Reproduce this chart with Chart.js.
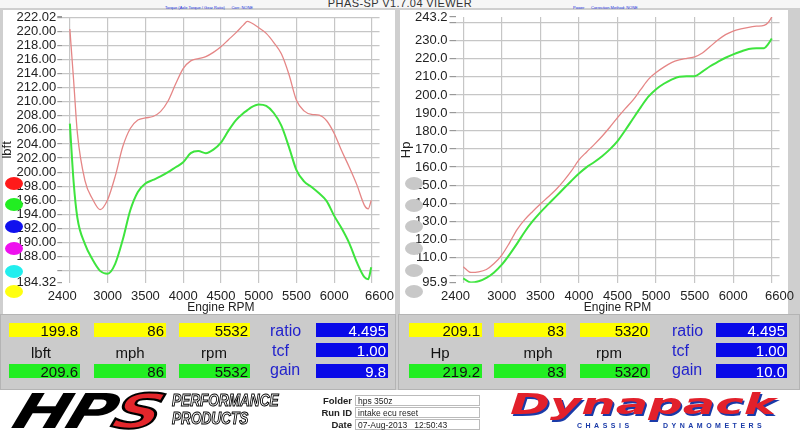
<!DOCTYPE html>
<html>
<head>
<meta charset="utf-8">
<script src="https://cdn.jsdelivr.net/npm/chart.js@4.4.0/dist/chart.umd.min.js"></script>
<style>
  body { margin: 0; width: 800px; height: 431px; overflow: hidden; position: relative;
         background: #cfcfcf; font-family: "Liberation Sans", Arial, sans-serif; }
  .abs { position: absolute; }
  .panel { position: absolute; background: #fff; }
  canvas { position: absolute; top: 0; }
  .dot { position: absolute; width: 18px; height: 13px; border-radius: 50%; }
  .box { position: absolute; height: 14px; font-size: 15px; line-height: 15px; text-align: right;
         padding-right: 2px; box-sizing: border-box; color: #111; }
  .yel { background: #ffff00; }
  .grn { background: #22ee22; }
  .blu { background: #0a0ae8; color: #fff; }
  .lab { position: absolute; font-size: 15px; color: #111; text-align: center; width: 60px; }
  .key { position: absolute; font-size: 16px; color: #2222cc; }
  .sub { position: absolute; top: 5px; font-size: 4px; color: #2233dd; white-space: pre; }
  .flab { position: absolute; left: 300px; width: 52px; text-align: right; font-size: 9.5px; font-weight: bold; color: #222; }
  .fbox { position: absolute; left: 355px; width: 125px; height: 11px; border: 1px solid #bbb; box-sizing: border-box;
          background: #fff; font-size: 8.5px; line-height: 10px; padding-left: 2px; color: #222; white-space: pre; }
</style>
</head>
<body>
<div class="abs" style="left:0;top:0;width:800px;height:8px;background:#f6f6f6"></div>
<div class="abs" style="left:0;top:-3px;width:800px;text-align:center;font-size:11px;color:#333;letter-spacing:0.4px">PHAS-SP V1.7.04  VIEWER</div>
<div class="sub" style="left:165px">Torque (Axle Torque / Gear Ratio)      Corr: NONE</div>
<div class="sub" style="left:573px">Power      Correction Method: NONE</div>

<div class="panel" style="left:3px;top:10px;width:392px;height:304px"></div>
<div class="panel" style="left:400px;top:10px;width:388px;height:304px"></div>

<canvas id="torqueChart" width="400" height="316" style="left:0"></canvas>
<canvas id="powerChart" width="402" height="316" style="left:398px"></canvas>

<!-- run selector buttons -->
<div class="dot" style="left:5px;top:177px;background:#ff1a1a"></div>
<div class="dot" style="left:5px;top:198px;background:#22ee22"></div>
<div class="dot" style="left:5px;top:220px;background:#1010ee"></div>
<div class="dot" style="left:5px;top:242px;background:#ee10ee"></div>
<div class="dot" style="left:5px;top:265px;background:#22eeee"></div>
<div class="dot" style="left:5px;top:285px;background:#ffff10"></div>
<div class="dot" style="left:405px;top:177px;background:#c8c8c8"></div>
<div class="dot" style="left:405px;top:199px;background:#c8c8c8"></div>
<div class="dot" style="left:405px;top:220px;background:#c8c8c8"></div>
<div class="dot" style="left:405px;top:242px;background:#c8c8c8"></div>
<div class="dot" style="left:405px;top:264px;background:#c8c8c8"></div>
<div class="dot" style="left:405px;top:285px;background:#c8c8c8"></div>

<!-- readout panel -->
<div class="abs" style="left:0;top:314px;width:396px;height:76px;background:#cbcbcb;border:1px solid #b4b4b4;box-sizing:border-box"></div>
<div class="abs" style="left:398px;top:314px;width:402px;height:76px;background:#cbcbcb;border:1px solid #b4b4b4;box-sizing:border-box"></div>

<div class="box yel" style="left:9px;top:323px;width:71px">199.8</div>
<div class="box yel" style="left:94px;top:323px;width:72px">86</div>
<div class="box yel" style="left:179px;top:323px;width:71px">5532</div>
<div class="key" style="left:270px;top:322px">ratio</div>
<div class="box blu" style="left:316px;top:323px;width:72px">4.495</div>
<div class="lab" style="left:11px;top:344px">lbft</div>
<div class="lab" style="left:100px;top:344px">mph</div>
<div class="lab" style="left:184px;top:344px">rpm</div>
<div class="key" style="left:272px;top:342px">tcf</div>
<div class="box blu" style="left:316px;top:343px;width:72px">1.00</div>
<div class="box grn" style="left:9px;top:364px;width:71px">209.6</div>
<div class="box grn" style="left:94px;top:364px;width:72px">86</div>
<div class="box grn" style="left:179px;top:364px;width:71px">5532</div>
<div class="key" style="left:270px;top:361px">gain</div>
<div class="box blu" style="left:316px;top:364px;width:72px">9.8</div>

<div class="box yel" style="left:409px;top:323px;width:73px">209.1</div>
<div class="box yel" style="left:494px;top:323px;width:72px">83</div>
<div class="box yel" style="left:580px;top:323px;width:70px">5320</div>
<div class="key" style="left:672px;top:322px">ratio</div>
<div class="box blu" style="left:716px;top:323px;width:71px">4.495</div>
<div class="lab" style="left:410px;top:344px">Hp</div>
<div class="lab" style="left:508px;top:344px">mph</div>
<div class="lab" style="left:579px;top:344px">rpm</div>
<div class="key" style="left:672px;top:342px">tcf</div>
<div class="box blu" style="left:716px;top:343px;width:71px">1.00</div>
<div class="box grn" style="left:409px;top:364px;width:73px">219.2</div>
<div class="box grn" style="left:494px;top:364px;width:72px">83</div>
<div class="box grn" style="left:580px;top:364px;width:70px">5320</div>
<div class="key" style="left:672px;top:361px">gain</div>
<div class="box blu" style="left:716px;top:364px;width:71px">10.0</div>

<!-- footer -->
<div class="abs" style="left:0;top:390px;width:800px;height:41px;background:#fff"></div>
<div class="abs" style="left:10px;top:387px;font:italic bold 48px 'DejaVu Sans';line-height:48px;letter-spacing:-2px;
     transform-origin:0 40px;transform:skewX(-18deg) scaleX(1.4);color:#000">HP<span style="color:#e3262b;-webkit-text-stroke:2px #000">S</span></div>
<div class="abs" style="left:172px;top:392px;font:italic bold 16px 'Liberation Sans';color:#fff;-webkit-text-stroke:1px #000;
     transform-origin:0 0;transform:scaleX(0.85);line-height:18px">PERFORMANCE<br>PRODUCTS</div>
<div class="flab" style="top:395px">Folder</div>
<div class="flab" style="top:407px">Run ID</div>
<div class="flab" style="top:419px">Date</div>
<div class="fbox" style="top:395px">hps 350z</div>
<div class="fbox" style="top:407px">intake ecu reset</div>
<div class="fbox" style="top:419px">07-Aug-2013   12:50:43</div>
<div class="abs" style="left:510px;top:389px;font:italic bold 28px 'DejaVu Sans';line-height:32px;color:#e2202b;
     text-shadow:1px 2px 0 #1a3aa8;transform-origin:0 0;transform:scaleX(1.72)">Dynapack</div>
<div class="abs" style="left:577px;top:422px;font:bold 7px 'Liberation Sans';letter-spacing:3.5px;color:#1a3aa8">CHASSIS</div>
<div class="abs" style="left:663px;top:422px;font:bold 7px 'Liberation Sans';letter-spacing:3.5px;color:#1a3aa8">DYNAMOMETERS</div>

<script>
// Torque graph (lbft)
const torqueRpm = [2500, 2550, 2600, 2700, 2800, 2900, 3000, 3100, 3200, 3300, 3400, 3500, 3600, 3700,
  3800, 3900, 4000, 4100, 4200, 4300, 4400, 4500, 4600, 4700, 4800, 4850, 4900, 5000, 5100, 5200,
  5300, 5400, 5500, 5600, 5700, 5800, 5900, 6000, 6100, 6200, 6300, 6400, 6450, 6490];
const torqueRed = [220.3, 213.0, 205.5, 198.8, 196.2, 194.7, 196.1, 199.4, 203.6, 206.2, 207.4, 207.7, 207.9, 208.6,
  210.1, 212.5, 214.7, 215.8, 216.1, 216.4, 217.0, 217.8, 218.8, 219.8, 220.9, 221.4, 221.2, 220.5, 219.7, 218.4,
  216.8, 213.9, 210.2, 208.7, 208.2, 208.1, 207.3, 205.5, 203.0, 200.7, 198.2, 195.3, 194.8, 196.0];
const torqueGreen = [206.9, 198.6, 193.5, 189.8, 187.6, 186.0, 185.6, 187.0, 190.4, 194.6, 197.2, 198.4, 198.9, 199.4,
  200.0, 200.7, 201.4, 202.7, 203.0, 202.7, 203.2, 204.2, 205.9, 207.4, 208.4, 208.8, 209.2, 209.6, 209.4, 208.4,
  206.6, 203.6, 200.3, 198.7, 197.9, 197.0, 195.9, 193.8, 192.0, 189.9, 187.2, 185.1, 184.8, 186.5];

// Power graph (Hp)
const powerRpm = [2500, 2600, 2700, 2800, 2900, 3000, 3100, 3200, 3300, 3400, 3500, 3600, 3700, 3800,
  3900, 4000, 4100, 4200, 4300, 4400, 4500, 4600, 4700, 4800, 4900, 5000, 5100, 5200, 5300, 5400,
  5500, 5600, 5700, 5800, 5900, 6000, 6100, 6200, 6300, 6400, 6450, 6500];
const powerRed = [104.8, 101.6, 101.9, 103.2, 106.5, 111.2, 118.0, 125.5, 131.0, 135.4, 139.5, 143.4, 147.4, 152.2,
  157.7, 164.0, 168.4, 172.6, 177.1, 182.1, 187.4, 192.4, 197.1, 202.9, 208.6, 212.4, 215.4, 217.9, 219.4, 220.3,
  221.1, 223.2, 226.8, 230.4, 233.4, 235.4, 236.6, 237.5, 238.1, 238.6, 240.0, 243.2];
const powerGreen = [98.3, 96.0, 96.7, 98.6, 101.6, 105.9, 111.5, 117.7, 124.3, 130.0, 134.9, 139.3, 143.6, 148.0,
  152.3, 156.4, 160.0, 162.8, 166.0, 169.8, 174.4, 180.4, 186.8, 193.1, 199.0, 203.2, 206.2, 208.5, 210.1, 210.3,
  210.4, 212.9, 215.9, 218.3, 220.6, 222.5, 224.1, 225.5, 225.9, 225.9, 228.0, 231.3];

// Axis ticks
const rpmTicks = [2400, 2500, 3000, 3500, 4000, 4500, 5000, 5500, 6000, 6500, 6600];
const rpmLabels = [2400, 3000, 3500, 4000, 4500, 5000, 5500, 6000, 6600];
const torqueTicks = [184.32, 186, 188, 190, 192, 194, 196, 198, 200, 202, 204, 206, 208, 210,
  212, 214, 216, 218, 220, 222, 222.02];
const torqueUnlabeled = [186, 222];
const powerTicks = [95.9, 100, 110, 120, 130, 140, 150, 160, 170, 180, 190, 200, 210, 220, 230, 240, 243.2];
const powerUnlabeled = [100, 240];

Chart.defaults.font.family = '"Liberation Sans", Arial, sans-serif';
const gridColor = '#c6c6c6';
const clear = 'rgba(0,0,0,0)';

function rpmAxis() {
  return {
    type: 'linear',
    min: 2400,
    max: 6600,
    afterBuildTicks: s => { s.ticks = rpmTicks.map(v => ({ value: v })); },
    afterFit: s => { s.height = 33.3; },
    grid: {
      color: c => (c.tick && c.tick.value % 500 === 0) ? gridColor : clear,
      lineWidth: 1.2,
      drawTicks: false
    },
    border: { display: false },
    ticks: {
      autoSkip: false,
      maxRotation: 0,
      padding: 6,
      color: '#222',
      font: { size: 13 },
      callback: v => rpmLabels.includes(v) ? String(v) : ''
    },
    title: { display: true, text: 'Engine RPM', color: '#222', font: { size: 12 }, padding: { top: 0, bottom: 1 } }
  };
}

function valueAxis(ticks, unlabeled, decimals, title, width, tickLength, pad, titlePad) {
  return {
    min: ticks[0],
    max: ticks[ticks.length - 1],
    afterBuildTicks: s => { s.ticks = ticks.map(v => ({ value: v })); },
    afterFit: s => { s.width = width; },
    grid: {
      color: c => (c.tick && Number.isInteger(c.tick.value)) ? gridColor : clear,
      tickColor: '#999',
      lineWidth: 1.2,
      tickLength: tickLength
    },
    border: { display: false },
    ticks: {
      autoSkip: false,
      padding: pad,
      color: '#222',
      font: { size: 13 },
      callback: v => unlabeled.includes(v) ? '' : v.toFixed(decimals)
    },
    title: { display: true, text: title, color: '#222', font: { size: 13 }, padding: { top: titlePad, bottom: 0 } }
  };
}

function lineSets(rpm, red, green) {
  return [{
    data: rpm.map((r, i) => ({ x: r, y: red[i] })),
    borderColor: '#e58686',
    borderWidth: 1.3,
    pointRadius: 0,
    cubicInterpolationMode: 'monotone'
  }, {
    data: rpm.map((r, i) => ({ x: r, y: green[i] })),
    borderColor: '#3ee43e',
    borderWidth: 2,
    pointRadius: 0,
    cubicInterpolationMode: 'monotone'
  }];
}

const commonOptions = {
  responsive: false,
  animation: false,
  events: [],
  plugins: { legend: { display: false }, tooltip: { enabled: false } }
};

// Torque chart
new Chart(document.getElementById('torqueChart'), {
  type: 'line',
  data: { datasets: lineSets(torqueRpm, torqueRed, torqueGreen) },
  options: {
    ...commonOptions,
    layout: { padding: { top: 17, right: 17, bottom: 0, left: 0 } },
    scales: {
      x: rpmAxis(),
      y: valueAxis(torqueTicks, torqueUnlabeled, 2, 'lbft', 62.3, 5, 1, 0)
    }
  }
});

// Power chart
new Chart(document.getElementById('powerChart'), {
  type: 'line',
  data: { datasets: lineSets(powerRpm, powerRed, powerGreen) },
  options: {
    ...commonOptions,
    layout: { padding: { top: 17, right: 18, bottom: 0, left: 0 } },
    scales: {
      x: rpmAxis(),
      y: valueAxis(powerTicks, powerUnlabeled, 1, 'Hp', 57.5, 6, 2, 1)
    }
  }
});
</script>
</body>
</html>
